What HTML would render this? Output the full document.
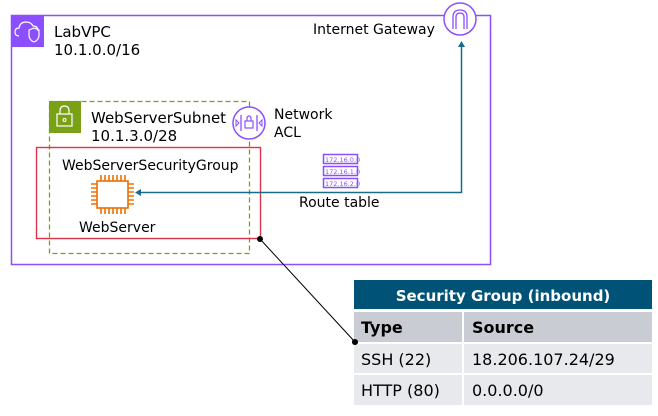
<!DOCTYPE html>
<html><head><meta charset="utf-8"><style>
html,body{margin:0;padding:0;background:#fff;}
svg text{font-family:"DejaVu Sans","Liberation Sans",sans-serif;}
</style></head><body>
<svg width="658" height="411" viewBox="0 0 658 411" xmlns="http://www.w3.org/2000/svg">
<!-- VPC -->
<rect x="11.5" y="15.5" width="479" height="249" fill="none" stroke="#8c4fff" stroke-width="1.5"/>
<rect x="11" y="15" width="33" height="32" fill="#8c4fff"/>
<path d="M19 36 q-4 0 -4 -4 q0 -4 4 -4 q1 -6 7 -6 q5 0 7 4 q5 0 5 5" fill="none" stroke="#fff" stroke-width="1.2"/>
<path d="M29 30 l5 -2 l5 2 v5 q0 5 -5 7 q-5 -2 -5 -7z" fill="none" stroke="#fff" stroke-width="1.2"/>
<text x="54" y="37" font-size="15" fill="#000">LabVPC</text>
<text x="54" y="55" font-size="15" fill="#000">10.1.0.0/16</text>
<!-- IGW -->
<text x="313" y="34" font-size="14" fill="#000">Internet Gateway</text>
<circle cx="460" cy="19" r="16" fill="#fff" stroke="#8c4fff" stroke-width="1.5"/>
<path d="M453 29 v-12 q0 -7 7 -7 q7 0 7 7 v12 M456 29 v-12 q0 -4 4 -4 q4 0 4 4 v12" fill="none" stroke="#8c4fff" stroke-width="1.3"/>
<!-- Subnet -->
<rect x="49.5" y="101.5" width="200" height="152" fill="none" stroke="#7aa116" stroke-width="1.3" stroke-dasharray="5,3"/>
<rect x="49" y="101" width="32" height="32" fill="#7aa116"/>
<rect x="57" y="114" width="15" height="12" fill="none" stroke="#fff" stroke-width="1.2"/>
<path d="M60 114 v-3 q0 -5 4.5 -5 q4.5 0 4.5 5 v3" fill="none" stroke="#fff" stroke-width="1.2"/>
<circle cx="64.5" cy="120" r="1.5" fill="none" stroke="#fff"/>
<text x="91" y="123" font-size="15" fill="#000">WebServerSubnet</text>
<text x="91" y="141" font-size="15" fill="#000">10.1.3.0/28</text>
<!-- NACL -->
<circle cx="249" cy="123" r="16" fill="#fff" stroke="#8c4fff" stroke-width="1.5"/>
<path d="M241 115 v16 M257 115 v16" stroke="#8c4fff" stroke-width="1.3"/>
<rect x="245" y="121" width="8" height="7" fill="none" stroke="#8c4fff" stroke-width="1.2"/>
<path d="M247 121 v-2 q0 -3 2 -3 q2 0 2 3 v2" fill="none" stroke="#8c4fff" stroke-width="1.2"/>
<path d="M236 120 l3 3 l-3 3z M262 120 l-3 3 l3 3z" fill="none" stroke="#8c4fff"/>
<text x="274" y="119" font-size="14" fill="#000">Network</text>
<text x="274" y="137" font-size="14" fill="#000">ACL</text>
<!-- SG -->
<rect x="36.5" y="147.5" width="224" height="91" fill="none" stroke="#dd344c" stroke-width="1.4"/>
<text x="62" y="170" font-size="14" fill="#000">WebServerSecurityGroup</text>
<!-- chip -->
<g stroke="#ed7100" stroke-width="1.6" fill="none">
<rect x="97" y="181" width="31" height="27"/>
<path d="M101 175v6M105 175v6M109 175v6M113 175v6M117 175v6M121 175v6M125 175v6
M101 208v6M105 208v6M109 208v6M113 208v6M117 208v6M121 208v6M125 208v6
M91 184h6M91 188h6M91 192h6M91 196h6M91 200h6M91 204h6
M128 184h6M128 188h6M128 192h6M128 196h6M128 200h6M128 204h6"/>
</g>
<text x="79" y="232" font-size="14" fill="#000">WebServer</text>
<!-- route arrow -->
<path d="M140 192.5 H461.5 V47" fill="none" stroke="#1a6a8a" stroke-width="1.5"/>
<path d="M135 192.5 l6 -3.5 v7z" fill="#1a6a8a"/>
<path d="M461.5 41 l-3.5 6 h7z" fill="#1a6a8a"/>
<!-- route table icon -->
<g fill="#fff" stroke="#8c4fff" stroke-width="1.5">
<rect x="323.5" y="154.5" width="34" height="9"/>
<rect x="323.5" y="166.5" width="34" height="9"/>
<rect x="323.5" y="178.5" width="34" height="9"/>
</g>
<g font-size="6.5" fill="#8c4fff"><text x="325" y="162">172.16.0.0</text><text x="325" y="174">172.16.1.0</text><text x="325" y="186">172.16.2.0</text></g>
<text x="299" y="207" font-size="14" fill="#000">Route table</text>
<!-- connector -->
<line x1="260" y1="239" x2="355" y2="342" stroke="#000" stroke-width="1"/>
<circle cx="260" cy="239" r="3" fill="#000"/>
<circle cx="355" cy="342" r="3" fill="#000"/>
<!-- table -->
<rect x="354" y="280" width="298" height="29" fill="#005276"/>
<text x="503" y="301" font-size="15" font-weight="bold" fill="#fff" text-anchor="middle">Security Group (inbound)</text>
<rect x="354" y="312" width="108" height="30" fill="#c9cdd3"/>
<rect x="464" y="312" width="188" height="30" fill="#c9cdd3"/>
<rect x="354" y="344" width="108" height="29" fill="#e8e9ec"/>
<rect x="464" y="344" width="188" height="29" fill="#e8e9ec"/>
<rect x="354" y="375" width="108" height="30" fill="#e8e9ec"/>
<rect x="464" y="375" width="188" height="30" fill="#e8e9ec"/>
<circle cx="355" cy="342" r="3" fill="#000"/>
<text x="361" y="333" font-size="16" font-weight="bold" fill="#000">Type</text>
<text x="472" y="333" font-size="16" font-weight="bold" fill="#000">Source</text>
<text x="361" y="365" font-size="16" fill="#000">SSH (22)</text>
<text x="472" y="365" font-size="16" fill="#000">18.206.107.24/29</text>
<text x="361" y="396" font-size="16" fill="#000">HTTP (80)</text>
<text x="472" y="396" font-size="16" fill="#000">0.0.0.0/0</text>
</svg>
</body></html>
